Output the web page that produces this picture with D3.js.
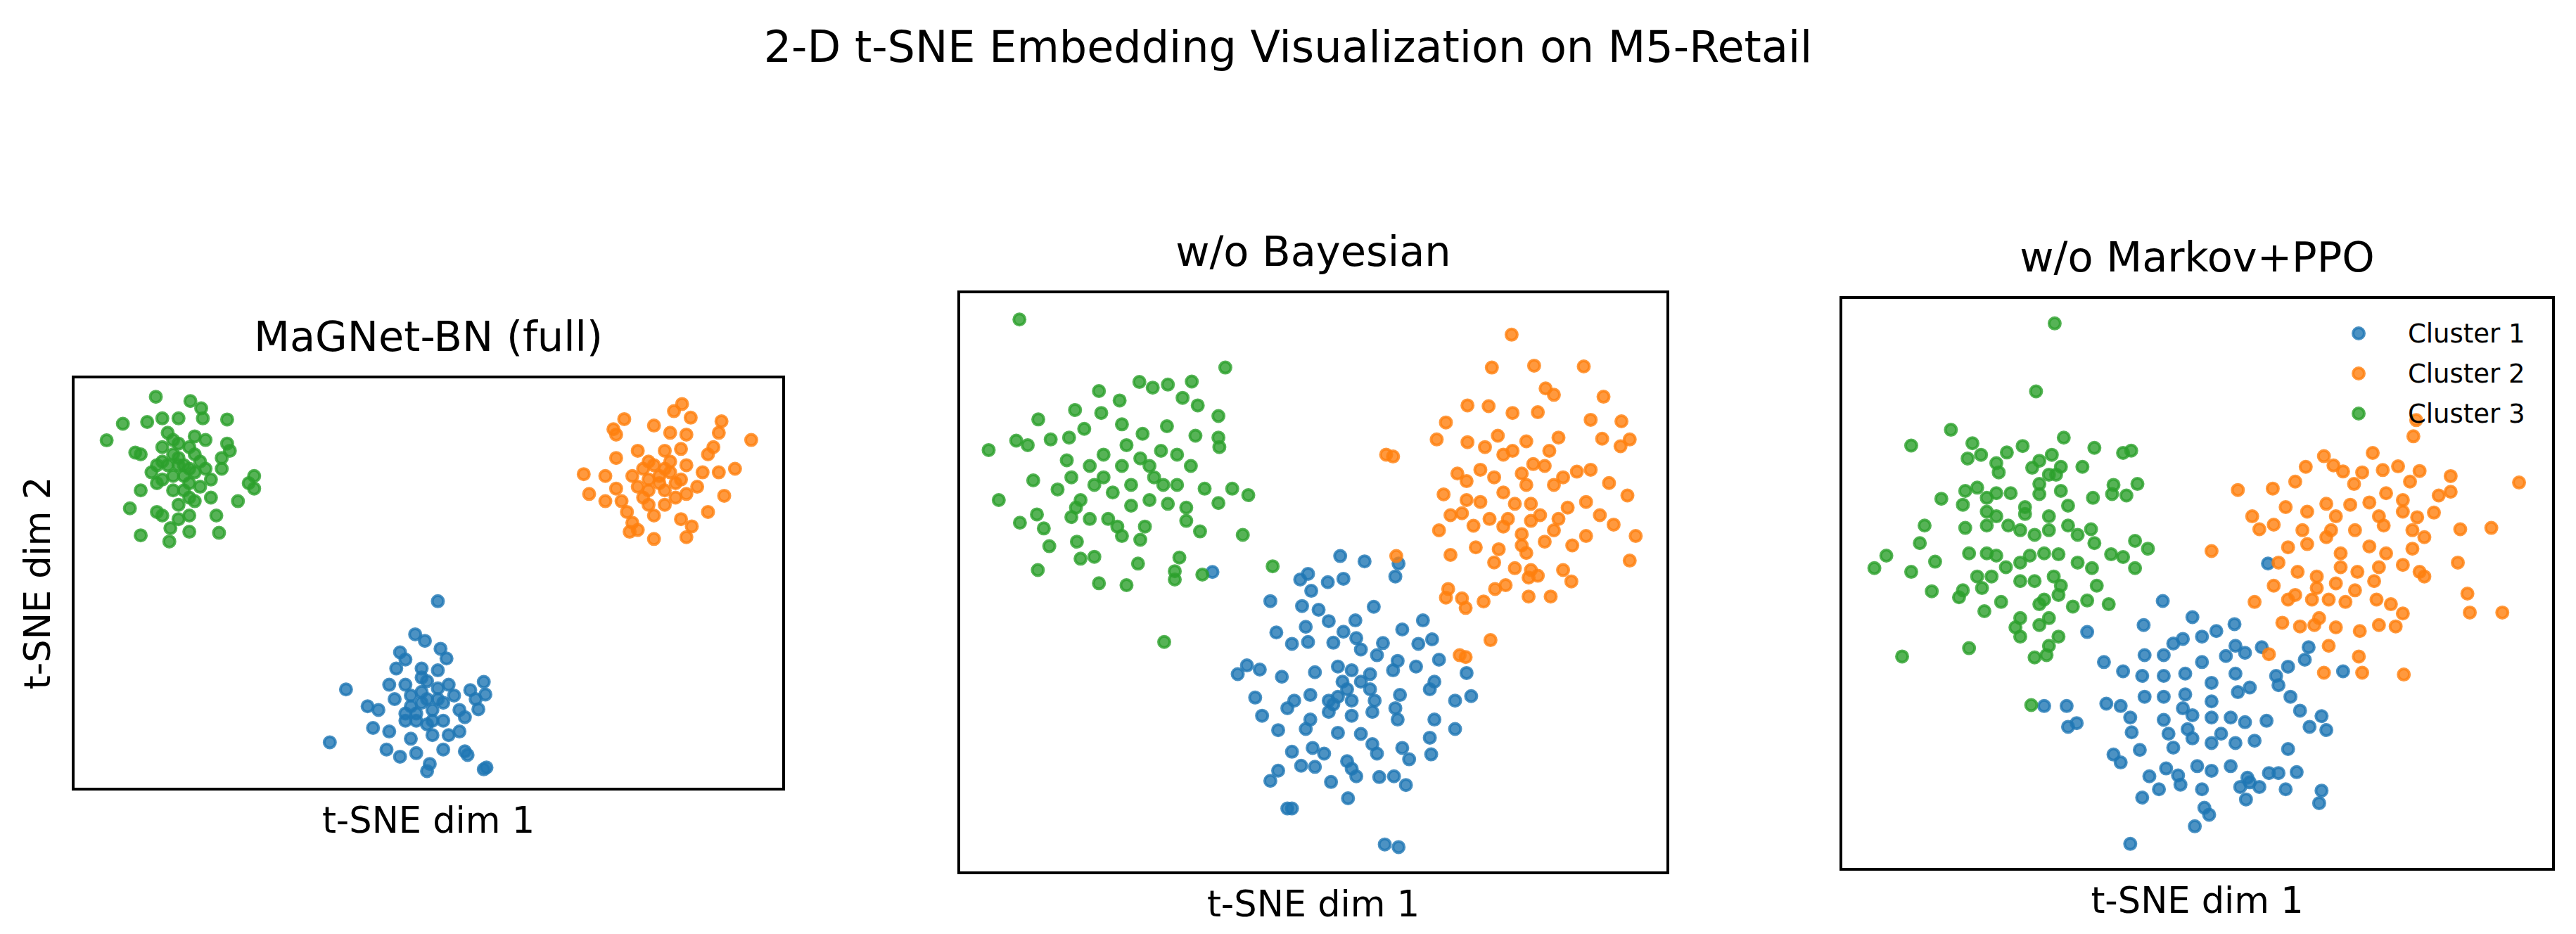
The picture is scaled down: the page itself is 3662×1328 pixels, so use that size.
<!DOCTYPE html>
<html>
<head>
<meta charset="utf-8">
<style>
  body { margin: 0; background: #fff; }
  text { font-family: "DejaVu Sans", sans-serif; fill: #000; }
</style>
</head>
<body>
<svg id="chart" width="3662" height="1328"></svg>
<script src="https://cdnjs.cloudflare.com/ajax/libs/d3/7.8.5/d3.min.js"></script>
<script>
// cluster names and colours (matplotlib tab10)
var clusterNames = ["Cluster 1", "Cluster 2", "Cluster 3"];
var clusterColors = ["#1f77b4", "#ff7f0e", "#2ca02c"];
var panelTitles = ["MaGNet-BN (full)", "w/o Bayesian", "w/o Markov+PPO"];

// ---- MaGNet-BN (full) ----
var full_c1 = [[2,-4.8],[-2.2,-14],[-0.4,-15.8],[2.5,-18],[3.6,-20.7],[-5,-19],[-4,-21],[-5.7,-23.5],[-1,-23.5],[2,-24],[-15,-29.3],[10.5,-27.2],[10.8,-30.7],[8,-29.5],[9,-32],[9.5,-34.8],[-7,-28],[-4,-28],[0,-27],[4,-28],[5,-31],[-11,-34],[-9,-35],[-6,-32],[-3,-31],[-1,-33],[2,-32],[6,-35],[7,-37],[-10,-40],[-7,-41],[-4,-38],[0,-39],[3,-38],[6,-41],[-18,-44],[-7.5,-46],[-5,-48],[-2,-47],[3,-46],[7,-46.5],[7.5,-47.5],[0.5,-50],[0,-52],[11,-51],[10.5,-51.5],[-3,-43],[1,-42],[4,-42],[-2,-36],[-1,-30],[1,-35],[-3,-34],[2,-29],[-2,-38],[0,-32],[3,-33],[-4,-36],[1,-38],[-1,-26]];
var full_c2 = [[47.2,50],[45.7,48],[48.8,46.2],[36.5,45.8],[54.5,45.2],[60,40],[34.5,43],[35,41.5],[42,44],[45,42],[48,41.5],[54,42],[53,38],[52,36],[47,37.5],[39,37],[35,35],[41,34],[44,32],[48,33],[57,32],[54,31],[29,30.5],[33,30],[38,30],[35,26.5],[30,25],[33,23],[41,26],[46,28],[50,27],[55,24.5],[52,20],[47,18],[49,16],[42,19],[37,20],[38,17],[39,15],[37.5,14.5],[42,12.5],[48,13],[44,22],[41,22],[36,23],[46,24],[43,30],[40,32],[51,31],[44,37],[43,28],[45,31],[41,29],[44,26],[47,29],[42,33],[39,27],[45,34],[48,25],[40,24]];
var full_c3 = [[-50.2,52],[-43.8,50.8],[-41.8,48.8],[-41.5,46],[-37,45.7],[-56.3,44.5],[-59.3,39.9],[-51.8,45],[-49,46],[-46,46],[-54,36.5],[-53,36],[-49,34],[-46,33],[-44,32],[-41,32],[-38,32],[-37,39],[-36.5,37],[-38,35],[-32,30],[-32,26.5],[-33,28],[-35,23],[-55,21],[-53,26],[-50,20],[-49,19],[-46,18],[-44,19],[-39,19],[-38.5,14.2],[-44,14.5],[-47.7,11.8],[-53,13.5],[-47.5,15.5],[-46,39],[-43,41],[-41,40],[-48,42],[-50,28],[-47,26],[-44,24],[-42,27],[-40,24],[-51,31],[-45,30],[-43,36],[-49,38],[-47,36],[-45,33],[-47,30],[-44,28],[-46,35],[-48,33],[-43,31],[-45,26],[-49,29],[-42,34],[-46,22],[-44,38],[-50,33],[-40,29],[-47,40],[-43,23]];

// ---- w/o Bayesian ----
var noBayes_c1 = [[6,7.2],[11.3,5.8],[18.7,5.2],[18,1.8],[-1,2.5],[-2.7,1],[3.3,0.3],[6.7,1.2],[-0.3,-2],[-9.2,-4.7],[-2.3,-6],[1.3,-7],[13.3,-6.2],[24,-9.8],[3.5,-10],[9.3,-9.8],[6.7,-12.8],[-1.5,-11.5],[-7.9,-13],[-4.5,-16],[-1,-15.5],[19.5,-12.2],[26,-14.8],[23,-16],[4.5,-15.7],[9.5,-14.5],[15.3,-15.8],[10.5,-17.5],[14,-19],[18.5,-20.5],[27.5,-20.2],[33.5,-23.7],[34.5,-29.8],[31,-31],[-14.3,-21.7],[-16.3,-24],[-11.5,-22.8],[-6.7,-24.7],[0.5,-23.5],[5.5,-22],[8.5,-23],[12.5,-24],[17.5,-23],[22.5,-22],[26.5,-26],[-12.5,-30.2],[-4,-31],[-0.5,-29.5],[3.5,-31],[7.5,-28],[12.5,-28],[19,-29.5],[25.5,-28],[-11,-35],[-5.5,-33],[-0.5,-36],[3.5,-34],[8.5,-35],[13,-34],[18,-33],[26.5,-36],[-7.5,-38.8],[-1.5,-38.5],[5.5,-39.5],[10.5,-39.8],[13,-42.5],[18.5,-36],[25.5,-40.8],[31,-38.5],[-4.5,-44.5],[0,-43.5],[2.5,-45],[7.5,-47],[14,-45],[19.5,-43.5],[21,-46.5],[25.8,-45.2],[-7.5,-49.5],[-2.5,-48.2],[0.5,-48.5],[8.5,-49],[9.5,-51],[-9.2,-52.2],[4,-52.5],[14.5,-51.2],[17.7,-51],[20.3,-53.3],[7.7,-56.8],[-5.5,-59.5],[-4.5,-59.5],[15.7,-69],[18.7,-69.7],[6.5,-26],[5.5,-30],[10.5,-26],[4.5,-32],[8.5,-31],[13.5,-31],[-21.8,3]];
var noBayes_c2 = [[43.3,65.7],[39,57],[48.2,57.5],[59,57.3],[50.7,51.5],[52.5,49.8],[63.3,49.3],[33.7,47],[38.3,46.8],[49,45.2],[43.5,45],[29,42.5],[60.5,43.2],[67.2,42.8],[27,38],[33.7,37.3],[40.3,39],[46.5,37.5],[53.5,38.5],[63,38.2],[69,38],[67,36.2],[16,34],[17.5,33.5],[37.5,36],[43.5,35],[51.5,35],[48,31.5],[50.5,31],[31.5,29],[36.5,30],[39.5,28],[45.5,29],[57.5,29.5],[60.5,30],[64.5,26.5],[33.5,27],[41.5,24],[46.5,26],[52.5,26],[28.5,23.5],[33.5,22],[36.5,21.5],[44,21],[47.5,21],[55.5,20],[59.5,21.5],[68.5,23.2],[30,18],[32.5,18.5],[38.5,17],[42.5,17],[49.5,18],[53.5,17],[62.5,18],[65.5,15.5],[27.5,14],[35,15.2],[41.5,15],[47.5,16.5],[52.5,14],[59.5,12.5],[70.3,12.5],[35.5,9.5],[40.5,9],[45.5,10],[50.5,11],[56.5,10],[30,7.5],[39.5,5.5],[44,4],[47.5,3.5],[54.5,3.5],[69,6],[18.2,7.2],[29.5,-1.5],[29,-3.8],[32.5,-4],[33.3,-6.5],[37.2,-4.8],[39.7,-1.5],[42,-0.5],[47,-3.5],[51.8,-3.5],[47,1.5],[49,2],[56.3,0.5],[38.7,-15],[32,-19],[33.3,-19.5],[46.5,8],[41.5,34],[54.5,28],[45.5,13]];
var noBayes_c3 = [[-63.8,69.7],[-19,57],[-70.5,35.2],[-68.3,22],[-59.8,3.5],[-46.5,0],[-40.5,-0.5],[-30,1],[-24,2.3],[-8.7,4.5],[-32.3,-15.5],[-64.5,37.7],[-62,36.5],[-59.7,43.3],[-51.7,45.8],[-46.5,50.8],[-42,48.3],[-37.7,53.2],[-34.8,51.7],[-31.5,52.5],[-26.3,53.3],[-28.3,49],[-25,47],[-20.5,44.2],[-20.3,36],[-20.5,38.5],[-25.5,39],[-31.7,41.5],[-37,39.5],[-41.5,42],[-46,45],[-49.7,40.8],[-53,38.5],[-57,38],[-53.5,32.5],[-60.8,27.2],[-55.5,24.8],[-52.5,28],[-48.5,31],[-45.5,28],[-41.5,31],[-37.5,33],[-33,35],[-29.5,34],[-26.5,31],[-23.5,25],[-20.5,21.2],[-17.5,25],[-14,23.3],[-15.2,12.8],[-24.5,13.7],[-27.5,16.5],[-27.5,20],[-31.5,21],[-35.5,22],[-39.5,20.5],[-42.5,15],[-41.5,12.5],[-37.5,11.5],[-36.5,15],[-44.5,17],[-48.5,17],[-52.5,17.5],[-60,18.2],[-63.7,16],[-58.5,14.5],[-57.3,9.8],[-51.3,11],[-50.5,6.5],[-47.5,7],[-38,5.2],[-29,6.8],[-30,3.2],[-45.5,34],[-40.5,36.5],[-35.5,31],[-47.5,26],[-50.5,22],[-32.5,26],[-34.5,28],[-39.5,26],[-43.5,24],[-29.5,26],[-51.5,20]];

// ---- w/o Markov+PPO ----
var noMarkov_c1 = [[-7.2,-3.8],[14.8,4.3],[-1,-7.3],[-11.2,-9],[7.8,-8.8],[-23,-10.5],[4,-10.3],[1,-11.5],[-3,-12],[-5,-13],[8,-13.5],[13.5,-13.8],[23.3,-13.8],[-11,-15.5],[-7,-15.5],[1,-17],[6,-15.7],[10,-15],[22.5,-16.5],[-19.5,-17],[-15.5,-19],[-11.5,-20],[-7,-20],[-2.5,-19.5],[3,-21.5],[8,-19.5],[16.5,-20],[19,-18],[30.5,-19],[-32,-26.5],[-27.3,-26.5],[-27,-31],[-25.2,-30.2],[-19,-26],[-16,-26.5],[-14,-29],[-11,-24.5],[-7,-24.5],[-2.5,-24],[3,-25.5],[8.5,-23.5],[11,-22.5],[17,-22],[19.5,-24.5],[21.5,-27.5],[26,-28.7],[27,-31.7],[23.5,-31],[-13.7,-32.2],[-7,-29.5],[-3,-27],[-1,-28.5],[3,-29],[7,-29],[10,-30],[14.5,-29.7],[-17.5,-37],[-16,-38.7],[-12,-36],[-6,-32.5],[-1,-33.5],[3,-34.5],[8,-34.5],[12,-34],[19,-35.8],[-10,-41.7],[-6.5,-40],[-4,-41.5],[0,-39.5],[3,-40.5],[7,-39.5],[10.5,-42],[15,-41],[17,-41],[20.8,-40.8],[-8,-44.5],[-3.5,-43.5],[9,-44],[13,-44],[18.5,-44.5],[26,-44.8],[25.5,-47.5],[-11.5,-46.3],[1.5,-48.5],[2.5,-50],[10.2,-46.7],[-0.5,-52.5],[-14,-56.3],[11,-43],[-2,-31.5],[-5,-35.5],[1,-44.5],[5,-32.5]];
var noMarkov_c2 = [[45.8,35.3],[45.2,31.8],[26.5,27.5],[36.7,28.2],[22.7,25.2],[28.5,25.5],[30.5,24.2],[34.5,24],[38.8,24.5],[42,25.3],[46.5,24.3],[53,23.2],[20.5,22],[32.8,21.5],[44.5,22],[67.3,21.8],[8.5,20.2],[15.8,20.5],[27,17.2],[32,17],[36,17.5],[39.5,19.5],[43,18],[50.5,19],[53,19.8],[18.5,16.5],[23,15.5],[29,14.5],[38,14.5],[43,15.5],[46,14.3],[49.5,15.3],[11.5,14.5],[16,12.7],[13,11.7],[22,11.5],[28,11.5],[33,11.5],[39,12.5],[45,11.5],[47.5,10],[55,11.7],[61.5,12],[3,7],[19,7.8],[23,8.5],[27,10],[30,6.5],[36,8],[39.5,6.5],[45,7.5],[17,4.5],[21,2.5],[25,1.5],[30,3.5],[33.5,2.5],[38,3.5],[43,4],[47.5,1.5],[54.5,4.5],[16,-0.5],[20.5,-2.5],[25,-1],[29,0],[33,-1.5],[37,0.5],[46.5,2.5],[56.5,-2.2],[57,-6.3],[63.8,-6.3],[12,-4],[19,-3.5],[24,-3.5],[27.5,-3.5],[31,-4],[37.5,-3.5],[40.5,-4.5],[43,-6.5],[25.5,-7.5],[17.8,-8.5],[21.5,-9.3],[24.5,-9],[29,-9.5],[34,-10.3],[38,-9],[41.5,-9.3],[27.5,-13.5],[15,-15.3],[33.8,-15.8],[26.5,-19.3],[34.5,-19.3],[43.2,-19.7]];
var noMarkov_c3 = [[-29.8,56.2],[-33.7,41.5],[-51.5,33.2],[-59.8,29.8],[-47,30.3],[-45.2,27.8],[-48,27],[-39.8,28.3],[-36.5,29.7],[-27.9,31.5],[-21.5,29.3],[-15.5,28.2],[-13.8,28.7],[-30.4,27.8],[-33,26.5],[-28.5,25.2],[-24,25.2],[-42,26],[-41.5,24],[-34.5,25],[-31,23.5],[-33,21.5],[-29.5,23.5],[-17.5,21.3],[-12.5,21.5],[-53.5,18.3],[-48.5,20],[-46,20.7],[-44,18.5],[-42,19.5],[-39,19.5],[-33,19.3],[-28.5,20],[-21.8,18.5],[-17.8,19.3],[-14.8,19],[-27,16.8],[-49,17],[-44,15.5],[-42,14.5],[-36,15],[-31,14.5],[-36,16.5],[-39.5,12.5],[-44,12.5],[-48.5,12],[-57,12.5],[-58,8.7],[-65,6],[-67.5,3.3],[-59.8,2.5],[-54.8,4.7],[-47.7,6.5],[-44,6.5],[-42,6],[-37,11.5],[-34,10.5],[-31,11.5],[-27,12.5],[-25,10.5],[-22.2,11.7],[-21.5,8.7],[-13,9.2],[-10.3,7.5],[-18,6.3],[-15.5,5.7],[-13,3.3],[-22,3.3],[-25,4.5],[-29,6.3],[-32,6.5],[-35,6],[-37,4.5],[-40,3.5],[-43,1.5],[-46,1.5],[-49,-1.5],[-55.5,-1.7],[-49.8,-3],[-45,-1],[-41,-4],[-37,0.5],[-34,0.5],[-30,1.5],[-28.5,-0.5],[-32,-3.5],[-33,-4.5],[-29,-2.5],[-21,-0.5],[-18.5,-4.5],[-23,-3.7],[-26,-5],[-31,-7.5],[-33,-9],[-37,-7.5],[-38,-9.5],[-37,-11.5],[-44.5,-6],[-47.7,-14],[-61.7,-15.8],[-34,-16],[-31,-13.5],[-29,-11.5],[-31.5,-15.5],[-34.7,-26.3]];

var panels = [
  { title: panelTitles[0], clusters: [full_c1, full_c2, full_c3], x: 104, y: 536, w: 1010, h: 586,
    xd: [-65.5, 66], yd: [-57, 57.5], ylabel: true, legend: false },
  { title: panelTitles[1], clusters: [noBayes_c1, noBayes_c2, noBayes_c3], x: 1363, y: 415, w: 1008, h: 826,
    xd: [-77, 77.3], yd: [-76.5, 77], ylabel: false, legend: false },
  { title: panelTitles[2], clusters: [noMarkov_c1, noMarkov_c2, noMarkov_c3], x: 2617, y: 423, w: 1013, h: 813,
    xd: [-74.5, 74.5], yd: [-61.8, 61.8], ylabel: false, legend: true }
];

var svg = d3.select("#chart");

svg.append("text")
  .attr("x", 1831).attr("y", 88)
  .attr("text-anchor", "middle")
  .style("font-size", "62px")
  .text("2-D t-SNE Embedding Visualization on M5-Retail");

function dot(sel, color) {
  sel.attr("r", 8)
    .attr("fill", color).attr("fill-opacity", 0.8)
    .attr("stroke", color).attr("stroke-opacity", 0.8)
    .attr("stroke-width", 4);
}

panels.forEach(function(p) {
  var g = svg.append("g").attr("transform", "translate(" + p.x + "," + p.y + ")");
  var x = d3.scaleLinear().domain(p.xd).range([0, p.w]);
  var y = d3.scaleLinear().domain(p.yd).range([p.h, 0]);

  p.clusters.forEach(function(pts, i) {
    g.append("g").selectAll("circle")
      .data(pts).enter().append("circle")
      .attr("cx", function(d) { return x(d[0]); })
      .attr("cy", function(d) { return y(d[1]); })
      .call(dot, clusterColors[i]);
  });

  g.append("rect")
    .attr("width", p.w).attr("height", p.h)
    .attr("fill", "none").attr("stroke", "#000").attr("stroke-width", 4);

  g.append("text")
    .attr("x", p.w / 2).attr("y", -37)
    .attr("text-anchor", "middle")
    .style("font-size", "59px")
    .text(p.title);

  g.append("text")
    .attr("x", p.w / 2).attr("y", p.h + 62)
    .attr("text-anchor", "middle")
    .style("font-size", "51px")
    .text("t-SNE dim 1");

  if (p.ylabel) {
    g.append("text")
      .attr("transform", "translate(-33," + (p.h / 2) + ") rotate(-90)")
      .attr("text-anchor", "middle")
      .style("font-size", "51px")
      .text("t-SNE dim 2");
  }

  if (p.legend) {
    var lg = svg.append("g").attr("transform", "translate(3353,474)");
    clusterNames.forEach(function(name, i) {
      lg.append("circle").attr("cx", 0).attr("cy", i * 57).call(dot, clusterColors[i]);
      lg.append("text").attr("x", 70).attr("y", i * 57 + 13)
        .style("font-size", "37px").text(name);
    });
  }
});
</script>
</body>
</html>
